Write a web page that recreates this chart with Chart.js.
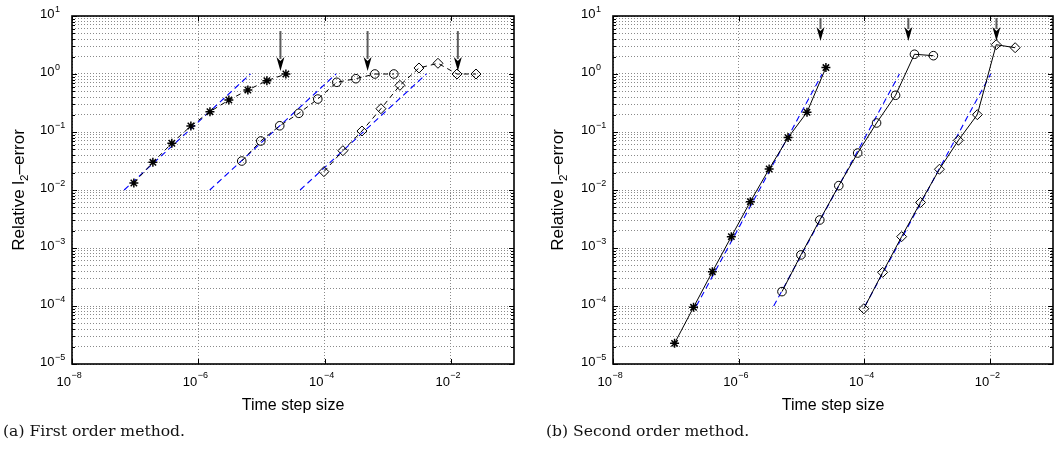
<!DOCTYPE html>
<html><head><meta charset="utf-8">
<script src="https://cdn.jsdelivr.net/npm/chart.js@4/dist/chart.umd.min.js"></script>
<style>
html,body{margin:0;padding:0;background:#fff;}
#wrap{position:relative;width:1059px;height:451px;overflow:hidden;background:#fff;}
canvas{position:absolute;top:0;}
.cap{position:absolute;font-family:'DejaVu Serif',serif;font-size:15.6px;line-height:20px;color:#111;white-space:nowrap;}
</style></head><body>
<div id="wrap">
<canvas id="c1" width="530" height="451" style="left:0px;top:0px"></canvas>
<canvas id="c2" width="529" height="451" style="left:530px;top:0px"></canvas>
<div class="cap" style="left:3px;top:421px">(a) First order method.</div>
<div class="cap" style="left:546px;top:421px">(b) Second order method.</div>
</div>
<script>
// ---------- data ----------
const X_STAR = [9.54e-8, 1.91e-7, 3.81e-7, 7.63e-7, 1.53e-6, 3.05e-6, 6.10e-6, 1.22e-5, 2.44e-5];
const X_CIRC = [4.88e-6, 9.77e-6, 1.95e-5, 3.91e-5, 7.81e-5, 1.56e-4, 3.13e-4, 6.25e-4, 1.25e-3];
const X_DIAM = [9.77e-5, 1.95e-4, 3.91e-4, 7.81e-4, 1.56e-3, 3.13e-3, 6.25e-3, 1.25e-2, 2.5e-2];

// (a) first order method
const A_STAR = [0.0132, 0.030, 0.064, 0.127, 0.224, 0.356, 0.53, 0.766, 1.0];
const A_CIRC = [0.0316, 0.070, 0.128, 0.21, 0.37, 0.72, 0.83, 1.0, 1.0];
const A_DIAM = [0.0207, 0.0476, 0.104, 0.252, 0.638, 1.27, 1.53, 1.0, 1.0];
const A_REF_Y = [0.01, 1];
const A_REF_STAR_X = [6.7e-8, 6.7e-6];
const A_REF_CIRC_X = [1.52e-6, 1.52e-4];
const A_REF_DIAM_X = [4.1e-5, 4.1e-3];
const A_ARROW_X = [2.0e-5, 4.8e-4, 1.29e-2];
const A_ARROW_Y = [5.5, 1.13];   // [tail, tip]

// (b) second order method
const B_STAR = [2.27e-5, 9.5e-5, 3.9e-4, 1.57e-3, 6.3e-3, 0.023, 0.080, 0.219, 1.29];
const B_CIRC = [1.77e-4, 7.6e-4, 3.04e-3, 0.0119, 0.0434, 0.143, 0.43, 2.19, 2.07];
const B_DIAM = [8.97e-5, 3.8e-4, 1.57e-3, 6.1e-3, 0.0228, 0.072, 0.199, 3.2, 2.84];
const B_REF_Y = [1e-4, 1];
const B_REF_STAR_X = [2.12e-7, 2.12e-5];
const B_REF_CIRC_X = [3.6e-6, 3.6e-4];
const B_REF_DIAM_X = [1.02e-4, 1.02e-2];
const B_ARROW_X = [2.0e-5, 5.0e-4, 1.26e-2];
const B_ARROW_Y = [9.2, 3.7];

// tick labels (powers of ten)
const X_TICK_EXP = [-8, -6, -4, -2];
const Y_TICK_EXP = [1, 0, -1, -2, -3, -4, -5];
const X_TITLE = 'Time step size';
const Y_TITLE = ['Relative l', '2', '\u2013error'];

// ---------- helpers ----------
const SANS = "'Liberation Sans', Arial, Helvetica, sans-serif";
function pts(xs, ys) { return xs.map((x, i) => ({x: x, y: ys[i]})); }
function series(xs, ys, style, dash) {
  return {
    data: pts(xs, ys), borderColor: '#000', borderWidth: 1,
    borderDash: dash, showLine: true, tension: 0,
    pointStyle: style, pointRadius: style === 'rectRot' ? 5 : (style === 'star' ? 4.5 : 4.3),
    pointBorderWidth: style === 'star' ? 1.5 : 1, pointBorderColor: '#000',
    pointBackgroundColor: 'rgba(0,0,0,0)', pointHoverRadius: 0, fill: false
  };
}
function refLine(xs, ys) {
  return {data: pts(xs, ys), borderColor: '#0000ff', borderWidth: 1.1, borderDash: [6, 4],
          showLine: true, pointRadius: 0, pointHoverRadius: 0, fill: false, tension: 0};
}
function supStr(e) { return e < 0 ? '\u2212' + Math.abs(e) : String(e); }

const deco = {
  id: 'deco',
  afterDatasetsDraw(chart, args, o) {
    const {ctx, scales: {x, y}} = chart;
    ctx.save();
    o.arrowX.forEach(v => {
      const px = x.getPixelForValue(v);
      const y0 = y.getPixelForValue(o.arrowY[0]);
      const y1 = y.getPixelForValue(o.arrowY[1]);
      const hl = 14, hw = 4;
      ctx.strokeStyle = '#5c5c5c'; ctx.lineWidth = 2; ctx.setLineDash([]);
      ctx.beginPath(); ctx.moveTo(px, y0); ctx.lineTo(px, y1 - hl + 2); ctx.stroke();
      ctx.fillStyle = '#000';
      ctx.beginPath(); ctx.moveTo(px, y1); ctx.lineTo(px - hw, y1 - hl); ctx.lineTo(px, y1 - hl + 4);
      ctx.lineTo(px + hw, y1 - hl); ctx.closePath(); ctx.fill();
    });
    ctx.restore();
  },
  afterDraw(chart, args, o) {
    const {ctx, chartArea: a, scales: {x, y}} = chart;
    ctx.save();
    ctx.setLineDash([]);
    ctx.strokeStyle = '#000'; ctx.lineWidth = 1;
    y.ticks.forEach(t => {
      const py = Math.round(y.getPixelForValue(t.value)) + 0.5;
      const m = Math.round(t.value / Math.pow(10, Math.floor(Math.log10(t.value) + 1e-9)));
      const L = m === 1 ? 5 : 3;
      ctx.beginPath(); ctx.moveTo(a.left, py); ctx.lineTo(a.left + L, py);
      ctx.moveTo(a.right, py); ctx.lineTo(a.right - L, py); ctx.stroke();
    });
    x.ticks.forEach(t => {
      const px = Math.round(x.getPixelForValue(t.value)) + 0.5;
      ctx.beginPath(); ctx.moveTo(px, a.bottom); ctx.lineTo(px, a.bottom - 5);
      ctx.moveTo(px, a.top); ctx.lineTo(px, a.top + 5); ctx.stroke();
    });
    ctx.lineWidth = 1.6;
    ctx.strokeRect(a.left, a.top, a.right - a.left, a.bottom - a.top);
    ctx.fillStyle = '#000';
    Y_TICK_EXP.forEach(e => {
      const py = y.getPixelForValue(Math.pow(10, e));
      ctx.font = '13px ' + SANS; ctx.textAlign = 'right'; ctx.textBaseline = 'middle';
      ctx.fillText('10', a.left - 17.5, py - 1.5);
      ctx.font = '9px ' + SANS; ctx.textAlign = 'left';
      ctx.fillText(supStr(e), a.left - 17, py - 6.5);
    });
    X_TICK_EXP.forEach(e => {
      const px = x.getPixelForValue(Math.pow(10, e));
      ctx.font = '13px ' + SANS; ctx.textAlign = 'right'; ctx.textBaseline = 'middle';
      ctx.fillText('10', px - 1, a.bottom + 18);
      ctx.font = '9px ' + SANS; ctx.textAlign = 'left';
      ctx.fillText(supStr(e), px - 0.5, a.bottom + 11.5);
    });
    ctx.font = '16px ' + SANS; ctx.textAlign = 'center'; ctx.textBaseline = 'middle';
    ctx.fillText(X_TITLE, (a.left + a.right) / 2, a.bottom + 42);
    const big = '17px ' + SANS, small = '11.5px ' + SANS;
    ctx.font = big; const w0 = ctx.measureText(Y_TITLE[0]).width;
    const w2 = ctx.measureText(Y_TITLE[2]).width;
    ctx.font = small; const w1 = ctx.measureText(Y_TITLE[1]).width;
    const tot = w0 + w1 + w2;
    ctx.translate(a.left - o.titleOffset, (a.top + a.bottom) / 2);
    ctx.rotate(-Math.PI / 2);
    ctx.textAlign = 'left'; ctx.textBaseline = 'alphabetic';
    let cx = -tot / 2;
    ctx.font = big; ctx.fillText(Y_TITLE[0], cx, 6); cx += w0;
    ctx.font = small; ctx.fillText(Y_TITLE[1], cx, 10); cx += w1;
    ctx.font = big; ctx.fillText(Y_TITLE[2], cx, 6);
    ctx.restore();
  }
};

function makeChart(id, yAxisW, padRight, sets, arrowX, arrowY, titleOffset) {
  return new Chart(document.getElementById(id), {
    type: 'scatter',
    data: {datasets: sets},
    options: {
      responsive: false, animation: false, devicePixelRatio: 1,
      layout: {padding: {left: 0, top: 16, right: padRight, bottom: 0}},
      plugins: {legend: {display: false}, tooltip: {enabled: false},
                deco: {arrowX: arrowX, arrowY: arrowY, titleOffset: titleOffset}},
      events: [],
      scales: {
        x: {type: 'logarithmic', min: 1e-8, max: 1e-1,
            afterBuildTicks: s => { s.ticks = X_TICK_EXP.map(e => ({value: Math.pow(10, e)})); },
            afterFit: s => { s.height = 87; },
            ticks: {display: false},
            grid: {color: '#8a8a8a', lineWidth: 1, drawTicks: false},
            border: {display: false, dash: [1, 2]}},
        y: {type: 'logarithmic', min: 1e-5, max: 10,
            afterBuildTicks: s => {
              const t = [];
              for (let k = -5; k <= 0; k++) for (let m = 1; m <= 9; m++) t.push({value: m * Math.pow(10, k)});
              t.push({value: 10}); s.ticks = t;
            },
            afterFit: s => { s.width = yAxisW; },
            ticks: {display: false},
            grid: {color: '#8a8a8a', lineWidth: 1, drawTicks: false},
            border: {display: false, dash: [1, 2]}}
      }
    },
    plugins: [deco]
  });
}

makeChart('c1', 72, 16, [
  series(X_STAR, A_STAR, 'star', [5, 4]),
  series(X_CIRC, A_CIRC, 'circle', [5, 4]),
  series(X_DIAM, A_DIAM, 'rectRot', [5, 4]),
  refLine(A_REF_STAR_X, A_REF_Y),
  refLine(A_REF_CIRC_X, A_REF_Y),
  refLine(A_REF_DIAM_X, A_REF_Y)
], A_ARROW_X, A_ARROW_Y, 54.5);

makeChart('c2', 83, 3, [
  series(X_STAR, B_STAR, 'star', []),
  series(X_CIRC, B_CIRC, 'circle', []),
  series(X_DIAM, B_DIAM, 'rectRot', []),
  refLine(B_REF_STAR_X, B_REF_Y),
  refLine(B_REF_CIRC_X, B_REF_Y),
  refLine(B_REF_DIAM_X, B_REF_Y)
], B_ARROW_X, B_ARROW_Y, 56);
</script>
</body></html>
